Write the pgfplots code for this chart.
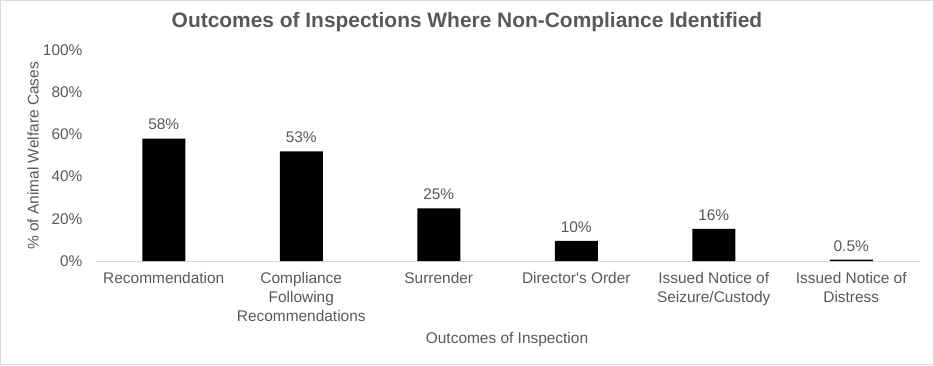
\documentclass[border=0pt]{standalone}
\usepackage{pgfplots}
\pgfplotsset{compat=1.18}
\usepackage{pgfplotstable}
\usepackage{fontspec}
\setmainfont{Liberation Sans}[Ligatures=TeXOff]
\definecolor{txt}{HTML}{595959}
\definecolor{frame}{HTML}{D9D9D9}
\pgfplotstableread{
x y lab
0 58 58
1 52 53
2 25 25
3 9.5 10
4 15.2 16
5 0.6 0.5
}\data
\begin{document}
\begin{tikzpicture}[x=1bp,y=1bp]
\path[use as bounding box] (0,0) rectangle (934,365);
\draw[frame, line width=1bp] (0.5,0.5) rectangle (933.5,364.5);
\begin{axis}[at={(95bp,104bp)}, anchor=south west, scale only axis,
  width=825bp, height=211bp,
  xmin=-0.5, xmax=5.5, ymin=0, ymax=100,
  ytick={0,20,...,100},
  yticklabel={\pgfmathprintnumber{\tick}\%},
  /pgf/number format/assume math mode=true,
  xtick={0,...,5},
  xticklabels={Recommendation, {Compliance\\Following\\Recommendations}, Surrender, Director's Order, {Issued Notice of\\Seizure/Custody}, {Issued Notice of\\Distress}},
  tick label style={font=\fontsize{15.5}{19}\selectfont, text=txt},
  xticklabel style={align=center, yshift=-8bp},
  yticklabel style={xshift=-9bp},
  major tick length=0pt,
  separate axis lines,
  axis x line*=bottom, axis y line*=left,
  x axis line style={draw=frame, line width=1bp},
  y axis line style={draw=none},
  ybar, bar width=43bp,
  nodes near coords={\pgfplotspointmeta\%},
  point meta=explicit symbolic,
  every node near coord/.append style={font=\fontsize{15.5}{19}\selectfont, text=txt, yshift=5bp},
]
\addplot[fill=black, draw=none] table[x=x, y=y, meta=lab] {\data};
\end{axis}
\node[font=\bfseries\fontsize{21}{25}\selectfont, text=txt] at (467,343) {Outcomes of Inspections Where Non-Compliance Identified};
\node[font=\fontsize{15.5}{19}\selectfont, text=txt, rotate=90] at (33,209) {\% of Animal Welfare Cases};
\node[font=\fontsize{15.5}{19}\selectfont, text=txt] at (507,25) {Outcomes of Inspection};
\end{tikzpicture}
\end{document}
